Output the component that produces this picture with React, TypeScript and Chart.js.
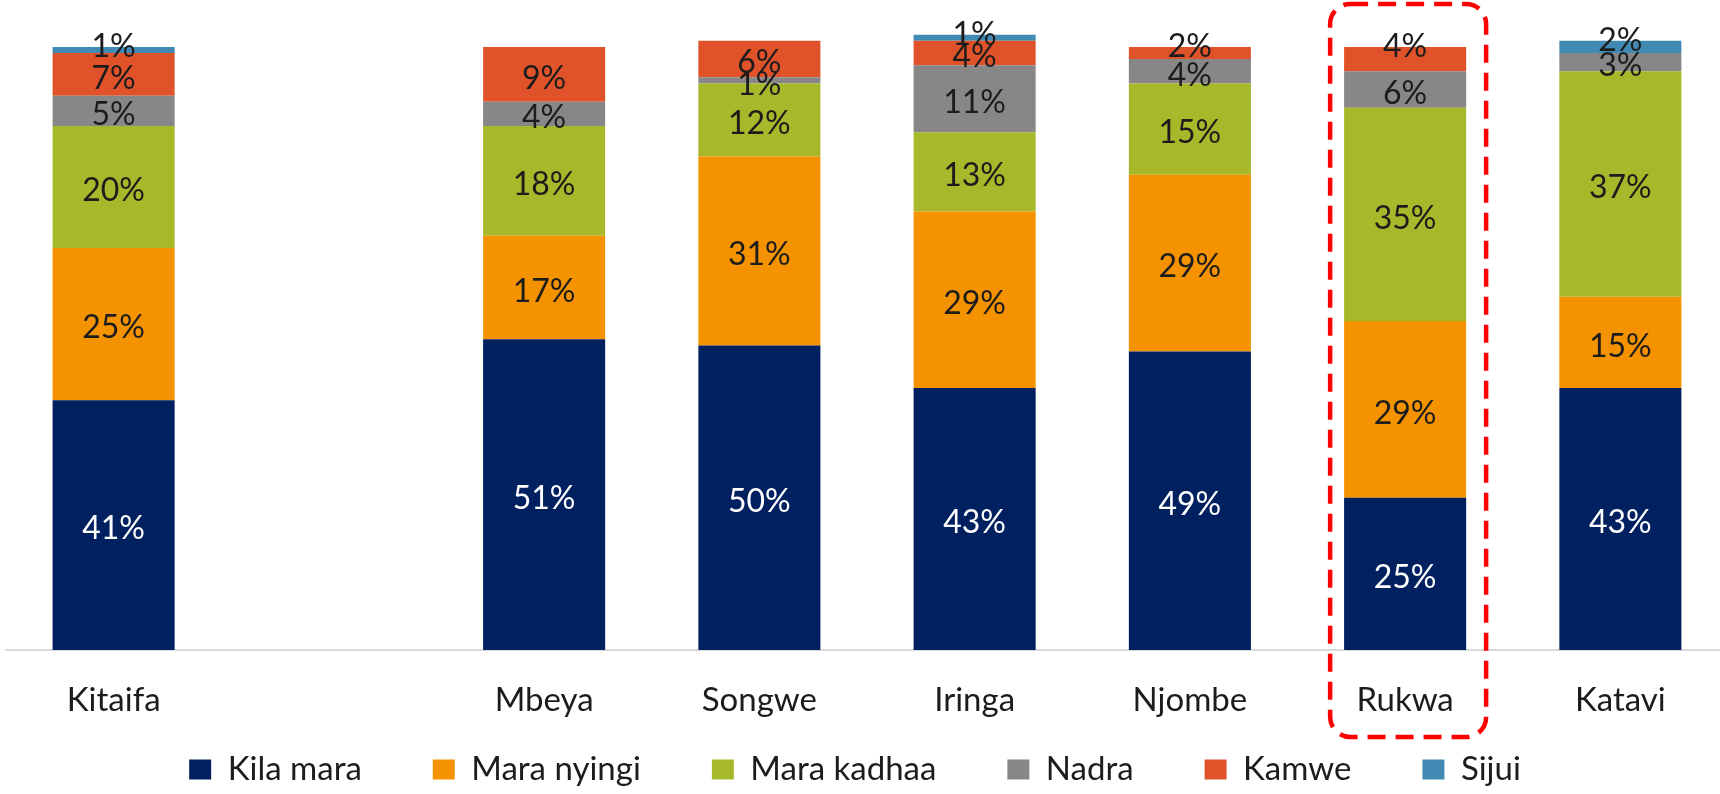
import React, { useEffect, useRef } from "react";
import { Chart, registerables } from "chart.js";

Chart.register(...registerables);

const categories = ["Kitaifa", "", "Mbeya", "Songwe", "Iringa", "Njombe", "Rukwa", "Katavi"];
const kilaMara = [41, null, 51, 50, 43, 49, 25, 43];
const maraNyingi = [25, null, 17, 31, 29, 29, 29, 15];
const maraKadhaa = [20, null, 18, 12, 13, 15, 35, 37];
const nadra = [5, null, 4, 1, 11, 4, 6, 3];
const kamwe = [7, null, 9, 6, 4, 2, 4, 0];
const sijui = [1, null, 0, 0, 1, 0, 0, 2];

const seriesNames = ["Kila mara", "Mara nyingi", "Mara kadhaa", "Nadra", "Kamwe", "Sijui"];
const seriesValues = [kilaMara, maraNyingi, maraKadhaa, nadra, kamwe, sijui];
const seriesColors = ["#002060", "#F59200", "#A7B82A", "#878787", "#E0532A", "#418AB3"];
const labelColors = ["#ffffff", "#1c1c1c", "#1c1c1c", "#1c1c1c", "#1c1c1c", "#1c1c1c"];
const highlightCategory = "Rukwa";

const FONT = "Lato, 'Open Sans', sans-serif";
const CANVAS_SHIFT = 18;

const dataLabelPlugin = {
  id: "dataLabels",
  afterDatasetsDraw(chart: any) {
    const ctx = chart.ctx;
    const datasets = chart.data.datasets;
    ctx.save();
    ctx.font = `32px ${FONT}`;
    ctx.textAlign = "center";
    ctx.textBaseline = "middle";
    datasets.forEach((ds: any, di: number) => {
      const meta = chart.getDatasetMeta(di);
      meta.data.forEach((bar: any, i: number) => {
        const v = ds.data[i];
        if (v == null || v === 0) return;
        // is this the top-most non-zero segment of the stack?
        let isTop = true;
        for (let k = di + 1; k < datasets.length; k++) {
          const w = datasets[k].data[i];
          if (w != null && w !== 0) {
            isTop = false;
            break;
          }
        }
        const p = bar.getProps(["x", "y", "base"], true);
        let y = (p.y + p.base) / 2 + 4;
        if (isTop && v <= 4) y = p.y;
        ctx.fillStyle = labelColors[di];
        ctx.fillText(`${v}%`, p.x, y);
      });
    });
    ctx.restore();
  },
};

const highlightPlugin = {
  id: "highlightBox",
  afterDraw(chart: any) {
    const xs = chart.scales.x;
    const idx = categories.indexOf(highlightCategory);
    if (idx < 0) return;
    const cx = xs.getPixelForValue(idx);
    const left = cx - 75;
    const right = cx + 81;
    const top = 4;
    const bottom = 737;
    const ctx = chart.ctx;
    ctx.save();
    ctx.strokeStyle = "#FF0000";
    ctx.lineWidth = 4.5;
    ctx.setLineDash([18, 10]);
    ctx.beginPath();
    if (ctx.roundRect) {
      ctx.roundRect(left, top, right - left, bottom - top, 20);
    } else {
      ctx.rect(left, top, right - left, bottom - top);
    }
    ctx.stroke();
    ctx.restore();
  },
};

export default function App() {
  const ref = useRef<HTMLCanvasElement | null>(null);

  useEffect(() => {
    let chart: any = null;
    let cancelled = false;

    const build = () => {
      if (cancelled || !ref.current) return;
      chart = new Chart(ref.current, {
        type: "bar",
        data: {
          labels: categories,
          datasets: seriesNames.map((name, i) => ({
            label: name,
            data: seriesValues[i],
            backgroundColor: seriesColors[i],
            borderWidth: 0,
            categoryPercentage: 1,
            barPercentage: 0.567,
          })),
        },
        options: {
          responsive: false,
          animation: false,
          devicePixelRatio: 1,
          layout: { padding: { left: 0, right: 0, top: 0, bottom: -2 } },
          plugins: {
            legend: {
              position: "bottom",
              labels: {
                boxWidth: 22,
                boxHeight: 20,
                padding: 71,
                color: "#1c1c1c",
                font: { family: FONT, size: 33 },
              },
            },
            tooltip: { enabled: false },
          },
          scales: {
            x: {
              stacked: true,
              grid: { display: false, drawTicks: false },
              border: { display: true, color: "#d9d9d9", width: 2 },
              ticks: {
                color: "#1c1c1c",
                mirror: true,
                padding: -66.5,
                font: { family: FONT, size: 33, lineHeight: 1 },
                maxRotation: 0,
                autoSkip: false,
              },
              afterFit: (scale: any) => {
                scale.height = 32;
              },
            },
            y: {
              stacked: true,
              display: true,
              min: 0,
              max: 106.7,
              grid: { display: false, drawTicks: false },
              border: { display: false },
              ticks: { display: false },
              afterFit: (scale: any) => {
                scale.width = CANVAS_SHIFT + 6;
              },
            },
          },
        },
        plugins: [dataLabelPlugin, highlightPlugin],
      });
    };

    const fonts: any = (document as any).fonts;
    if (fonts && fonts.load) {
      Promise.all([fonts.load("33px Lato"), fonts.load("32px Lato")])
        .catch(() => null)
        .then(() => build());
    } else {
      build();
    }

    return () => {
      cancelled = true;
      if (chart) chart.destroy();
    };
  }, []);

  return (
    <div
      style={{
        position: "absolute",
        left: 0,
        top: 0,
        width: 1720,
        height: 794,
        overflow: "hidden",
        background: "#ffffff",
      }}
    >
      <canvas
        ref={ref}
        width={1728 + CANVAS_SHIFT}
        height={794}
        style={{
          position: "absolute",
          left: -CANVAS_SHIFT,
          top: 0,
          width: 1728 + CANVAS_SHIFT,
          height: 794,
          display: "block",
        }}
      />
    </div>
  );
}
